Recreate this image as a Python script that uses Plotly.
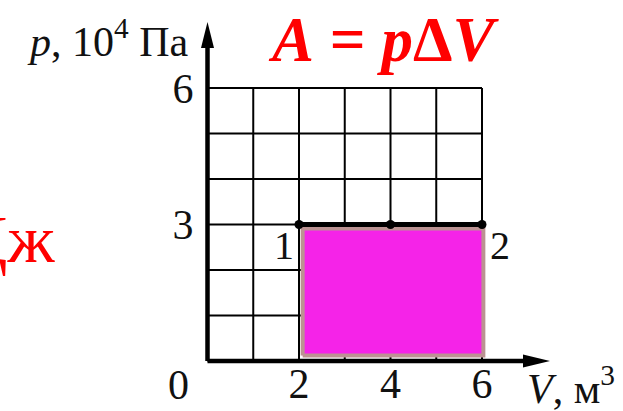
import plotly.graph_objects as go

# ---- data ----
V_TICKS = [2, 4, 6]
P_TICKS = [3, 6]
GRID_V = [0, 1, 2, 3, 4, 5, 6]
GRID_P = [0, 1, 2, 3, 4, 5, 6]
V_START = 2
V_END = 6
V_MID = 4
P_CONST = 3
STATE_LABELS = ["1", "2"]
FORMULA = "<b><i>A</i> = <i>p</i>Δ<i>V</i></b>"
UNIT_TEXT = "Дж"
Y_TITLE = "<i>p</i>, 10<sup>4</sup> Па"
X_TITLE = "<i>V</i>, м<sup>3</sup>"

# ---- geometry (pixels) ----
W, H = 623, 411
X0_PX, UX = 207.5, 45.75   # pixel of V=0, pixels per unit
Y0_PX, UY = 361.0, 45.5    # pixel of p=0 (from top), pixels per unit
xr = [-X0_PX / UX, (W - X0_PX) / UX]
yr = [-(H - Y0_PX) / UY, Y0_PX / UY]

SERIF = "Liberation Serif, Times New Roman, serif"
INK = "#111111"
RED = "#ff0000"
MAGENTA = "#f523e8"
ROSY = "#bc9292"

fig = go.Figure()

# grid
gx, gy = [], []
for v in GRID_V:
    gx += [v, v, None]
    gy += [GRID_P[0], GRID_P[-1], None]
for p in GRID_P:
    gx += [GRID_V[0], GRID_V[-1], None]
    gy += [p, p, None]
fig.add_trace(go.Scatter(x=gx, y=gy, mode="lines",
                         line=dict(color="#000000", width=2),
                         hoverinfo="skip", showlegend=False))

# work area (rectangle under the isobar)
inset_l, inset_r, inset_b, inset_t = 0.08, 0.03, 0.12, 0.09
rx0, rx1 = V_START + inset_l, V_END + inset_r
ry0, ry1 = 0 + inset_b, P_CONST - inset_t
fig.add_trace(go.Scatter(x=[rx0, rx1, rx1, rx0, rx0], y=[ry0, ry0, ry1, ry1, ry0],
                         mode="lines", fill="toself", fillcolor=MAGENTA,
                         line=dict(color=ROSY, width=4),
                         hoverinfo="skip", showlegend=False))

# axes lines
x_tip = (550 - X0_PX) / UX
y_tip = (Y0_PX - 22) / UY
fig.add_trace(go.Scatter(x=[0, x_tip - 0.3, None, 0, 0], y=[0, 0, None, 0, y_tip - 0.3],
                         mode="lines", line=dict(color="#000000", width=4.5),
                         hoverinfo="skip", showlegend=False))

# isobar 1-2
fig.add_trace(go.Scatter(x=[V_START, V_MID, V_END], y=[P_CONST] * 3,
                         mode="lines+markers",
                         line=dict(color="#000000", width=5),
                         marker=dict(color="#000000", size=9),
                         hoverinfo="skip", showlegend=False))

# arrowheads
fig.add_shape(type="path", xref="x", yref="y", xsizemode="pixel", ysizemode="pixel",
              xanchor=0, yanchor=y_tip, path="M0,0 L-6.5,-26 L6.5,-26 Z",
              fillcolor="#000000", line=dict(width=0))
fig.add_shape(type="path", xref="x", yref="y", xsizemode="pixel", ysizemode="pixel",
              xanchor=x_tip, yanchor=0, path="M0,0 L-27,6.5 L-27,-6.5 Z",
              fillcolor="#000000", line=dict(width=0))

# annotations
ann = []
ann.append(dict(x=V_START, y=P_CONST, text=STATE_LABELS[0], xanchor="right", yanchor="top",
                xshift=-3, yshift=4, font=dict(family=SERIF, size=40, color=INK)))
ann.append(dict(x=V_END, y=P_CONST, text=STATE_LABELS[1], xanchor="left", yanchor="top",
                xshift=6, yshift=4, font=dict(family=SERIF, size=40, color=INK)))
ann.append(dict(x=0, y=0, text="0", xanchor="center", yanchor="middle",
                xshift=-29, yshift=-24, font=dict(family=SERIF, size=42, color=INK)))
ann.append(dict(x=0, y=y_tip, text=Y_TITLE, xanchor="right", yanchor="middle",
                xshift=-17, yshift=-16, font=dict(family=SERIF, size=42, color=INK)))
ann.append(dict(x=x_tip, y=0, text=X_TITLE, xanchor="center", yanchor="middle",
                xshift=21, yshift=-24, font=dict(family=SERIF, size=42, color=INK)))
ann.append(dict(x=(GRID_V[0] + GRID_V[-1]) / 2 + 0.85, y=y_tip, text=FORMULA,
                xanchor="center", yanchor="middle", yshift=-18,
                font=dict(family=SERIF, size=63, color=RED)))
ann.append(dict(x=0, y=P_CONST, text=UNIT_TEXT, xanchor="right", yanchor="middle",
                xshift=-151, yshift=-14, font=dict(family=SERIF, size=68, color=RED)))
for a in ann:
    a.update(xref="x", yref="y", showarrow=False)

fig.update_layout(
    width=W, height=H,
    margin=dict(l=0, r=0, t=0, b=0),
    paper_bgcolor="#ffffff", plot_bgcolor="#ffffff",
    showlegend=False,
    annotations=ann,
    xaxis=dict(range=xr, anchor="free", position=(H - Y0_PX) / H,
               showgrid=False, zeroline=False, showline=False,
               tickmode="array", tickvals=V_TICKS, ticktext=[str(v) for v in V_TICKS],
               ticks="", ticklen=0, ticklabelstandoff=-6,
               tickfont=dict(family=SERIF, size=42, color=INK),
               automargin=False, fixedrange=True),
    yaxis=dict(range=yr, anchor="free", position=X0_PX / W,
               showgrid=False, zeroline=False, showline=False,
               tickmode="array", tickvals=P_TICKS, ticktext=[str(p) for p in P_TICKS],
               ticks="", ticklen=0, ticklabelstandoff=14,
               tickfont=dict(family=SERIF, size=42, color=INK),
               automargin=False, fixedrange=True),
)

fig.write_html("out.html", config={"displayModeBar": False, "staticPlot": True},
               post_script="document.body.style.margin='0';document.body.style.overflow='hidden';")
